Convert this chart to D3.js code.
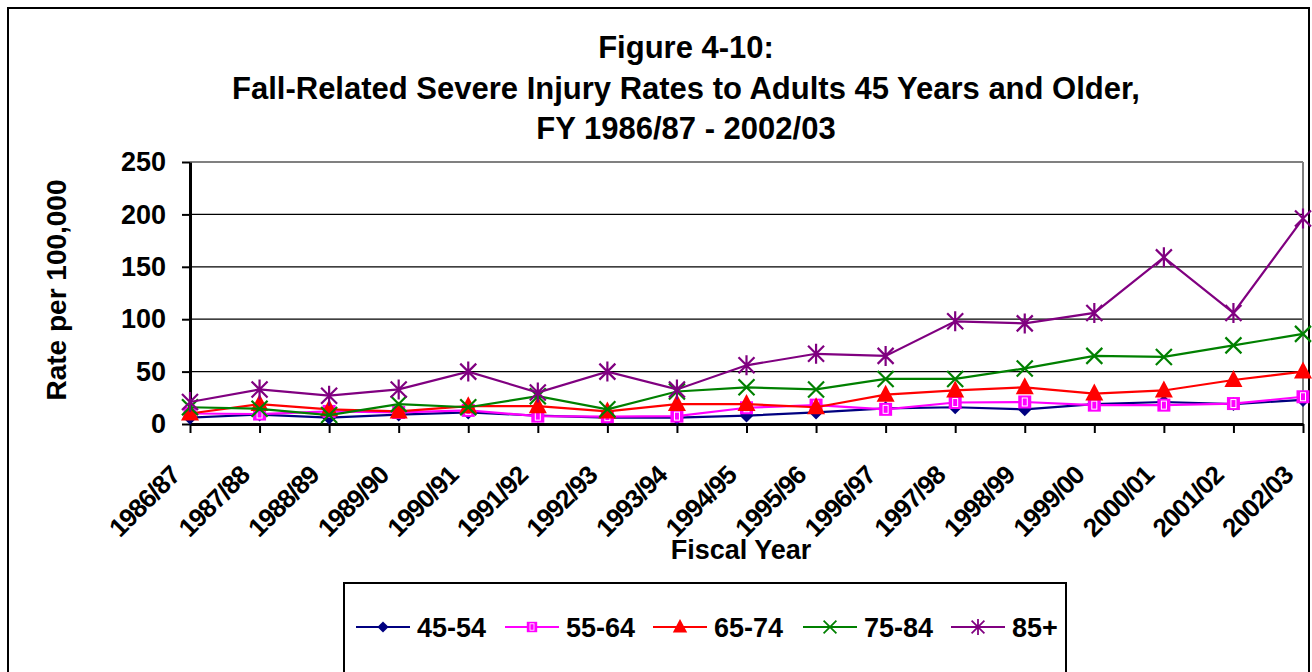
<!DOCTYPE html>
<html>
<head>
<meta charset="utf-8">
<script src="https://cdn.jsdelivr.net/npm/d3@7"></script>
<style>
  body { margin: 0; background: #fff; }
  svg { display: block; font-family: "Liberation Sans", Arial, sans-serif; font-weight: bold; }
</style>
</head>
<body>
<svg width="1312" height="672"></svg>
<script>
var years = ["1986/87", "1987/88", "1988/89", "1989/90", "1990/91", "1991/92", "1992/93", "1993/94",
  "1994/95", "1995/96", "1996/97", "1997/98", "1998/99", "1999/00", "2000/01", "2001/02", "2002/03"];

var age4554 = [6, 9, 6, 9, 11, 8, 6, 6, 8, 11, 15, 16, 14, 19, 21, 19, 23];
var age5564 = [10, 9.5, 12, 11, 13, 7.5, 7, 7.5, 15.5, 18, 14, 20.5, 21, 18, 18, 19.5, 26];
var age6574 = [10, 19, 14, 12, 17, 17, 12, 19, 19, 16, 28, 32, 35, 29, 32, 42, 50];
var age7584 = [16, 14.5, 8.5, 19, 16, 26.5, 14, 31, 35, 33, 43, 43, 53, 65, 64, 75, 86];
var age85 = [21, 33, 27, 33, 50, 30, 50, 33, 56, 67, 65, 98, 96, 106, 159, 106, 196];

var yTicks = [0, 50, 100, 150, 200, 250];

var series = [
  { name: "45-54", values: age4554, color: "#000080", marker: "diamond" },
  { name: "55-64", values: age5564, color: "#ff00ff", marker: "square" },
  { name: "65-74", values: age6574, color: "#ff0000", marker: "triangle" },
  { name: "75-84", values: age7584, color: "#008000", marker: "x" },
  { name: "85+", values: age85, color: "#800080", marker: "star" }
];

var svg = d3.select("svg"),
  width = +svg.attr("width"),
  height = +svg.attr("height");

var plotLeft = 190, plotRight = 1303, plotTop = 162, plotBottom = 424;

var x = d3.scalePoint().domain(years).range([plotLeft, plotRight]);
var y = d3.scaleLinear().domain([0, 250]).range([plotBottom, plotTop]);

// outer frame
svg.append("rect")
  .attr("x", 8).attr("y", 8)
  .attr("width", 1301).attr("height", 700)
  .attr("fill", "#fff").attr("stroke", "#000").attr("stroke-width", 2);

// title
var title = ["Figure 4-10:", "Fall-Related Severe Injury Rates to Adults 45 Years and Older,", "FY 1986/87 - 2002/03"];
svg.append("g").selectAll("text")
  .data(title)
  .enter().append("text")
  .attr("x", 686)
  .attr("y", function(d, i) { return 58 + i * 40.5; })
  .attr("text-anchor", "middle")
  .attr("font-size", 31)
  .text(function(d) { return d; });

// gridlines
svg.append("g")
  .selectAll("line")
  .data(yTicks.slice(1))
  .enter().append("line")
  .attr("x1", plotLeft).attr("x2", plotRight)
  .attr("y1", function(d) { return y(d); })
  .attr("y2", function(d) { return y(d); })
  .attr("stroke", function(d) { return d == 250 ? "#808080" : "#000"; })
  .attr("stroke-width", function(d) { return d == 250 ? 2 : 1.2; });

// right plot border
svg.append("line")
  .attr("x1", plotRight).attr("x2", plotRight)
  .attr("y1", plotTop).attr("y2", plotBottom)
  .attr("stroke", "#808080").attr("stroke-width", 2);

// y axis
var yAxis = svg.append("g")
  .attr("transform", "translate(" + plotLeft + ",0)")
  .call(d3.axisLeft(y).tickValues(yTicks).tickSize(8).tickPadding(16).tickSizeOuter(0));
yAxis.select(".domain").attr("stroke-width", 3);
yAxis.selectAll(".tick line").attr("stroke-width", 2);
yAxis.selectAll("text").attr("font-size", 27).attr("font-family", null).attr("fill", "#000");

// x axis
var xAxis = svg.append("g")
  .attr("transform", "translate(0," + plotBottom + ")")
  .call(d3.axisBottom(x).tickSize(9).tickSizeOuter(0));
xAxis.select(".domain").attr("stroke-width", 3);
xAxis.selectAll(".tick line").attr("stroke-width", 2);
xAxis.selectAll("text")
  .attr("font-size", 26)
  .attr("letter-spacing", -1)
  .attr("font-family", null)
  .attr("fill", "#000")
  .attr("text-anchor", "end")
  .attr("dy", null)
  .attr("y", 0)
  .attr("transform", "translate(-9,53) rotate(-45)");

// axis titles
svg.append("text")
  .attr("transform", "translate(66,290) rotate(-90)")
  .attr("text-anchor", "middle")
  .attr("font-size", 28)
  .text("Rate per 100,000");

svg.append("text")
  .attr("x", 741).attr("y", 559)
  .attr("text-anchor", "middle")
  .attr("font-size", 27)
  .text("Fiscal Year");

function marker(sel, type, color, k) {
  k = k || 1;
  if (type == "diamond") {
    sel.append("path").attr("d", "M0,-7L7,0L0,7L-7,0Z").attr("fill", color).attr("transform", "scale(" + k + ")");
  } else if (type == "square") {
    var m = sel.append("g").attr("transform", "scale(" + k + ")");
    m.append("rect").attr("x", -6.5).attr("y", -6.5).attr("width", 13).attr("height", 13).attr("fill", color);
    m.append("rect").attr("x", -2.5).attr("y", -4).attr("width", 5).attr("height", 8)
      .attr("fill", "none").attr("stroke", "#fff").attr("stroke-width", 1);
  } else if (type == "triangle") {
    sel.append("path").attr("d", "M0,-10L9,7L-9,7Z").attr("fill", color).attr("transform", "scale(" + k + ")");
  } else if (type == "x") {
    sel.append("path").attr("d", "M-8,-8L8,8M-8,8L8,-8").attr("stroke", color).attr("stroke-width", 2.2).attr("fill", "none")
      .attr("transform", "scale(" + k + ")");
  } else {
    sel.append("path").attr("d", "M-8,-8L8,8M-8,8L8,-8M0,-10L0,10").attr("stroke", color).attr("stroke-width", 2.2).attr("fill", "none")
      .attr("transform", "scale(" + k + ")");
  }
}

var line = d3.line()
  .x(function(d, i) { return x(years[i]); })
  .y(function(d) { return y(d); });

series.forEach(function(s) {
  var g = svg.append("g").attr("class", "series");
  g.append("path")
    .attr("d", line(s.values))
    .attr("fill", "none")
    .attr("stroke", s.color)
    .attr("stroke-width", 2.2);
  g.selectAll(".pt")
    .data(s.values)
    .enter().append("g")
    .attr("class", "pt")
    .attr("transform", function(d, i) { return "translate(" + x(years[i]) + "," + y(d) + ")"; })
    .each(function() { marker(d3.select(this), s.marker, s.color); });
});

// legend
var legend = svg.append("g");
legend.append("rect")
  .attr("x", 344).attr("y", 583)
  .attr("width", 722).attr("height", 100)
  .attr("fill", "#fff").attr("stroke", "#000").attr("stroke-width", 2);

var legendX = [356, 505, 653, 803, 951];
var item = legend.selectAll(".item")
  .data(series)
  .enter().append("g")
  .attr("class", "item")
  .attr("transform", function(d, i) { return "translate(" + legendX[i] + ",627)"; });

item.append("line")
  .attr("x1", 0).attr("x2", 54)
  .attr("stroke", function(d) { return d.color; })
  .attr("stroke-width", 2);
item.each(function(d) {
  var m = d3.select(this).append("g").attr("transform", "translate(27,0)");
  marker(m, d.marker, d.color, 0.8);
});
item.append("text")
  .attr("x", 61).attr("y", 10)
  .attr("font-size", 27)
  .text(function(d) { return d.name; });
</script>
</body>
</html>
